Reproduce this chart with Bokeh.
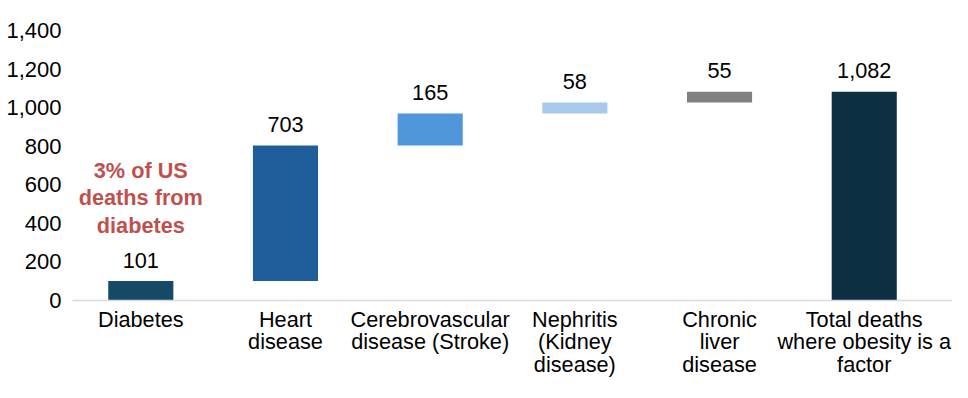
from bokeh.plotting import figure
from bokeh.models import Range1d, FixedTicker, NumeralTickFormatter, Label, ColumnDataSource
from bokeh.core.properties import value
from bokeh.embed import file_html
from bokeh.resources import INLINE

# ---- data ----
categories = ["Diabetes", "Heart\ndisease", "Cerebrovascular\ndisease (Stroke)",
              "Nephritis\n(Kidney\ndisease)", "Chronic\nliver\ndisease",
              "Total deaths\nwhere obesity is a\nfactor"]
step_values = [101, 703, 165, 58, 55]
total_value = 1082
y_ticks = [0, 200, 400, 600, 800, 1000, 1200, 1400]
colors = ["#154A66", "#1F5E9A", "#4F96DA", "#A7CAEC", "#808080", "#0D2F42"]
note = "3% of US\ndeaths from\ndiabetes"

# ---- derived waterfall geometry ----
bottoms, tops = [], []
run = 0
for v in step_values:
    bottoms.append(run)
    run += v
    tops.append(run)
bottoms.append(0)
tops.append(total_value)
labels = [f"{v:,}" for v in step_values + [total_value]]
xs = list(range(len(categories)))

src = ColumnDataSource(dict(x=xs, bottom=bottoms, top=tops, color=colors, label=labels))

FONT = "Liberation Sans"
FS = "21.7px"

p = figure(width=952, height=382, output_backend="svg", toolbar_location=None,
           x_range=Range1d(-0.472, 5.61), y_range=Range1d(0, 1400),
           min_border_left=72, min_border_right=0, min_border_top=30, min_border_bottom=82)
p.outline_line_color = None
p.xgrid.grid_line_color = None
p.ygrid.grid_line_color = None

p.vbar(x="x", bottom="bottom", top="top", width=0.45, color="color", line_color=None, source=src)
p.text(x="x", y="top", text="label", source=src, text_align="center", text_baseline="alphabetic",
       y_offset=-21, text_font_size=FS, text_color="#000000", text_font=value(FONT))

p.add_layout(Label(x=0, y=534, text=note, text_align="center", text_baseline="middle",
                   text_font_size=FS, text_font_style="bold", text_color="#C0504D",
                   text_font=FONT, text_line_height=1.1))

# y axis
ya = p.yaxis[0]
ya.ticker = FixedTicker(ticks=y_ticks)
ya.formatter = NumeralTickFormatter(format="0,0")
ya.axis_line_color = None
ya.major_tick_line_color = None
ya.minor_tick_line_color = None
ya.major_tick_out = 0
ya.major_label_standoff = 11
ya.major_label_text_font_size = "22px"
ya.major_label_text_font = FONT
ya.major_label_text_color = "#000000"

# x axis
xa = p.xaxis[0]
xa.ticker = FixedTicker(ticks=xs)
xa.major_label_overrides = {i: c for i, c in zip(xs, categories)}
xa.axis_line_color = "#D9D9D9"
xa.axis_line_width = 1.5
xa.major_tick_line_color = None
xa.minor_tick_line_color = None
xa.major_tick_out = 0
xa.major_label_standoff = 6
xa.major_label_text_font_size = FS
xa.major_label_text_font = FONT
xa.major_label_text_color = "#000000"
xa.major_label_text_line_height = 0.9

open("out.html", "w").write(file_html(p, INLINE))
